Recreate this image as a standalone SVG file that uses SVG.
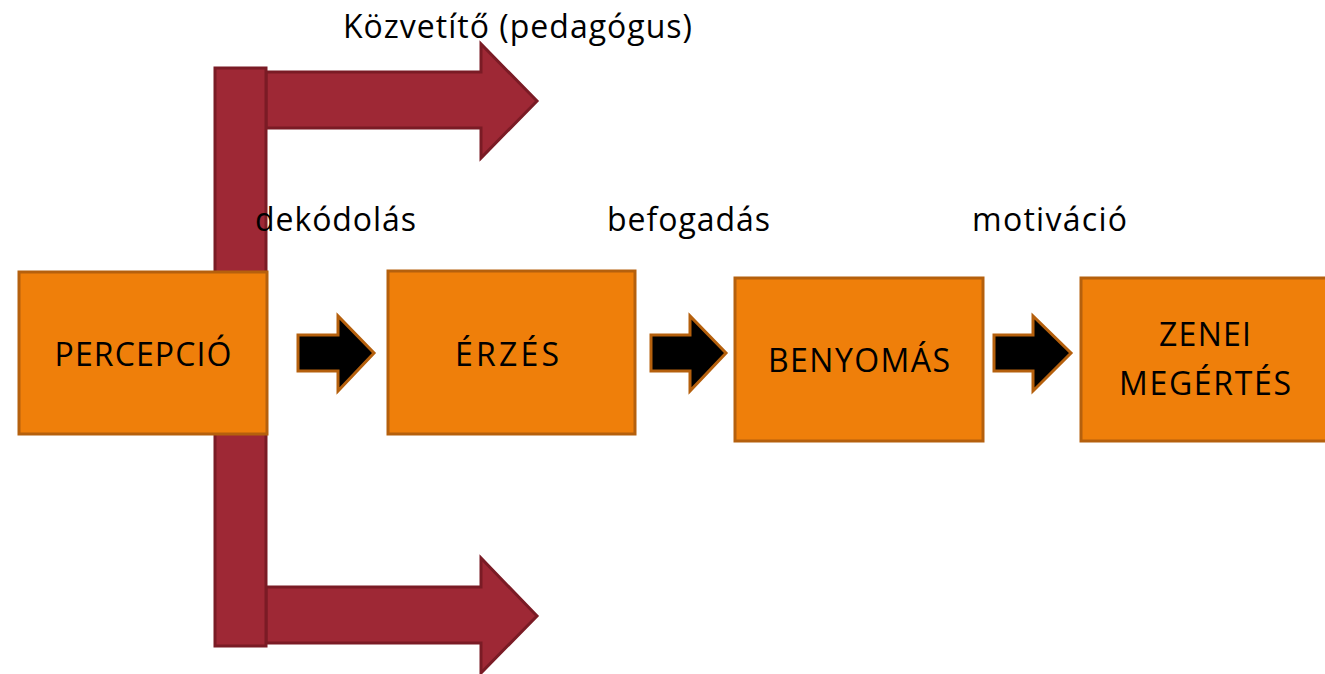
<svg xmlns="http://www.w3.org/2000/svg" width="1325" height="674" viewBox="0 0 1325 674">
<style>
.red{fill:#9E2835;stroke:#7A1B25;stroke-width:3}
.box{fill:#EF7F0A;stroke:#B5600D;stroke-width:3}
.blk{fill:#000;stroke:#B5600D;stroke-width:3;stroke-linejoin:miter}
text{font-family:"Open Sans","Liberation Sans",sans-serif;fill:#000}
.lbl{font-size:32px}
.nt{font-size:32px;text-anchor:middle}
</style>
<rect width="1325" height="674" fill="#fff"/>
<g id="bracket">
<polygon class="red" points="266,72 481,72 481,44 537,101 481,158 481,128 266,128"/>
<polygon class="red" points="266,587 481,587 481,558 537,616 481,673 481,643 266,643"/>
<rect class="red" x="215" y="68" width="51" height="578"/>
</g>
<g id="connectors">
<polygon class="blk" points="298,335 338,335 338,316 374,353 338,391 338,371 298,371"/>
<polygon class="blk" points="651,335 690,335 690,316 726,353 690,391 690,371 651,371"/>
<polygon class="blk" points="994,335 1033,335 1033,316 1071,353 1033,391 1033,371 994,371"/>
</g>
<g id="percepcio">
<rect class="box" x="19" y="272" width="248" height="162"/>
<text class="nt" x="143" y="366" textLength="177">PERCEPCIÓ</text>
</g>
<g id="erzes">
<rect class="box" x="388" y="271" width="247" height="163"/>
<text class="nt" x="507" y="366" textLength="104">ÉRZÉS</text>
</g>
<g id="benyomas">
<rect class="box" x="735" y="278" width="248" height="163"/>
<text class="nt" x="859" y="372" textLength="182">BENYOMÁS</text>
</g>
<g id="zenei">
<rect class="box" x="1081" y="278" width="260" height="163"/>
<text class="nt" x="1205" y="346" textLength="92">ZENEI</text>
<text class="nt" x="1205" y="395" textLength="172">MEGÉRTÉS</text>
</g>
<g id="labels">
<text class="lbl" x="343" y="38" textLength="349" font-size="33">Közvetítő (pedagógus)</text>
<text class="lbl" x="255" y="231" textLength="161">dekódolás</text>
<text class="lbl" x="607" y="231" textLength="163">befogadás</text>
<text class="lbl" x="972" y="231" textLength="155">motiváció</text>
</g>
</svg>
